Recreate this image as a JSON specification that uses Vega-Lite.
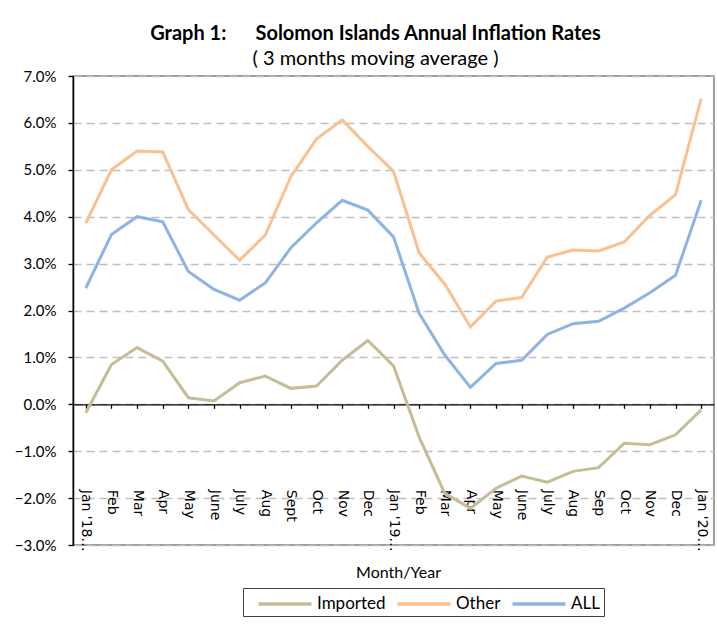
{
  "$schema": "https://vega.github.io/schema/vega-lite/v6.json",
  "autosize": "none",
  "width": 641,
  "height": 469,
  "padding": {"left": 73, "top": 76, "right": 3, "bottom": 93},
  "background": "white",
  "title": {
    "text": "Graph 1:\u00a0\u00a0\u00a0\u00a0\u00a0\u00a0Solomon Islands Annual Inflation Rates",
    "subtitle": "( 3 months moving average )",
    "anchor": "middle",
    "dx": -18,
    "offset": 0,
    "font": "Lato",
    "fontSize": 20,
    "fontWeight": "bold",
    "color": "#000000",
    "subtitleFont": "Lato",
    "subtitleFontSize": 20,
    "subtitleColor": "#000000",
    "subtitlePadding": 5
  },
  "data": {
    "values": [
      {"month": "Jan '18", "series": "Imported", "value": -0.18}, {"month": "Jan '18", "series": "Other", "value": 3.86}, {"month": "Jan '18", "series": "ALL", "value": 2.48},
      {"month": "Feb '18", "series": "Imported", "value": 0.85}, {"month": "Feb '18", "series": "Other", "value": 5.00}, {"month": "Feb '18", "series": "ALL", "value": 3.62},
      {"month": "Mar '18", "series": "Imported", "value": 1.21}, {"month": "Mar '18", "series": "Other", "value": 5.40}, {"month": "Mar '18", "series": "ALL", "value": 4.00},
      {"month": "Apr '18", "series": "Imported", "value": 0.92}, {"month": "Apr '18", "series": "Other", "value": 5.38}, {"month": "Apr '18", "series": "ALL", "value": 3.89},
      {"month": "May '18", "series": "Imported", "value": 0.14}, {"month": "May '18", "series": "Other", "value": 4.15}, {"month": "May '18", "series": "ALL", "value": 2.83},
      {"month": "June '18", "series": "Imported", "value": 0.07}, {"month": "June '18", "series": "Other", "value": 3.61}, {"month": "June '18", "series": "ALL", "value": 2.45},
      {"month": "July '18", "series": "Imported", "value": 0.46}, {"month": "July '18", "series": "Other", "value": 3.07}, {"month": "July '18", "series": "ALL", "value": 2.22},
      {"month": "Aug '18", "series": "Imported", "value": 0.60}, {"month": "Aug '18", "series": "Other", "value": 3.61}, {"month": "Aug '18", "series": "ALL", "value": 2.59},
      {"month": "Sept '18", "series": "Imported", "value": 0.34}, {"month": "Sept '18", "series": "Other", "value": 4.86}, {"month": "Sept '18", "series": "ALL", "value": 3.34},
      {"month": "Oct '18", "series": "Imported", "value": 0.39}, {"month": "Oct '18", "series": "Other", "value": 5.66}, {"month": "Oct '18", "series": "ALL", "value": 3.87},
      {"month": "Nov '18", "series": "Imported", "value": 0.94}, {"month": "Nov '18", "series": "Other", "value": 6.06}, {"month": "Nov '18", "series": "ALL", "value": 4.35},
      {"month": "Dec '18", "series": "Imported", "value": 1.36}, {"month": "Dec '18", "series": "Other", "value": 5.50}, {"month": "Dec '18", "series": "ALL", "value": 4.14},
      {"month": "Jan '19", "series": "Imported", "value": 0.82}, {"month": "Jan '19", "series": "Other", "value": 4.97}, {"month": "Jan '19", "series": "ALL", "value": 3.57},
      {"month": "Feb '19", "series": "Imported", "value": -0.70}, {"month": "Feb '19", "series": "Other", "value": 3.23}, {"month": "Feb '19", "series": "ALL", "value": 1.94},
      {"month": "Mar '19", "series": "Imported", "value": -1.90}, {"month": "Mar '19", "series": "Other", "value": 2.56}, {"month": "Mar '19", "series": "ALL", "value": 1.05},
      {"month": "Apr '19", "series": "Imported", "value": -2.22}, {"month": "Apr '19", "series": "Other", "value": 1.65}, {"month": "Apr '19", "series": "ALL", "value": 0.36},
      {"month": "May '19", "series": "Imported", "value": -1.79}, {"month": "May '19", "series": "Other", "value": 2.20}, {"month": "May '19", "series": "ALL", "value": 0.87},
      {"month": "June '19", "series": "Imported", "value": -1.53}, {"month": "June '19", "series": "Other", "value": 2.28}, {"month": "June '19", "series": "ALL", "value": 0.94},
      {"month": "July '19", "series": "Imported", "value": -1.66}, {"month": "July '19", "series": "Other", "value": 3.14}, {"month": "July '19", "series": "ALL", "value": 1.49},
      {"month": "Aug '19", "series": "Imported", "value": -1.43}, {"month": "Aug '19", "series": "Other", "value": 3.29}, {"month": "Aug '19", "series": "ALL", "value": 1.72},
      {"month": "Sep '19", "series": "Imported", "value": -1.35}, {"month": "Sep '19", "series": "Other", "value": 3.27}, {"month": "Sep '19", "series": "ALL", "value": 1.77},
      {"month": "Oct '19", "series": "Imported", "value": -0.83}, {"month": "Oct '19", "series": "Other", "value": 3.46}, {"month": "Oct '19", "series": "ALL", "value": 2.05},
      {"month": "Nov '19", "series": "Imported", "value": -0.86}, {"month": "Nov '19", "series": "Other", "value": 4.03}, {"month": "Nov '19", "series": "ALL", "value": 2.38},
      {"month": "Dec '19", "series": "Imported", "value": -0.65}, {"month": "Dec '19", "series": "Other", "value": 4.47}, {"month": "Dec '19", "series": "ALL", "value": 2.75},
      {"month": "Jan '20", "series": "Imported", "value": -0.12}, {"month": "Jan '20", "series": "Other", "value": 6.52}, {"month": "Jan '20", "series": "ALL", "value": 4.35}
    ]
  },
  "mark": {"type": "line", "strokeWidth": 3, "strokeJoin": "miter"},
  "encoding": {
    "x": {
      "field": "month",
      "type": "ordinal",
      "sort": null,
      "scale": {"padding": 0.5},
      "axis": {
        "title": "Month/Year",
        "titleFont": "Lato",
        "titleFontSize": 16,
        "titleFontWeight": "normal",
        "titleColor": "#000000",
        "titleY": 168,
        "titleX": 325,
        "titleBaseline": "middle",
        "offset": -140.7,
        "domainColor": "#000000",
        "domainWidth": 1.3,
        "tickColor": "#000000",
        "tickWidth": 1.3,
        "tickSize": 4,
        "labelAngle": 90,
        "labelAlign": "left",
        "labelBaseline": "middle",
        "labelPadding": 81,
        "labelFont": "DejaVu Sans",
        "labelFontSize": 14,
        "labelColor": "#000000",
        "labelOverlap": false,
        "labelExpr": "indexof(datum.value, 'Jan') == 0 ? datum.value + '\u2026' : split(datum.value, ' ')[0]",
        "grid": false
      }
    },
    "y": {
      "field": "value",
      "type": "quantitative",
      "scale": {"domain": [-3, 7], "nice": false, "zero": false},
      "axis": {
        "title": null,
        "values": [-3, -2, -1, 0, 1, 2, 3, 4, 5, 6, 7],
        "labelExpr": "format(datum.value, '.1f') + '%'",
        "labelFont": "Lato",
        "labelFontSize": 15,
        "labelColor": "#000000",
        "labelPadding": 12,
        "tickSize": 5,
        "tickColor": "#000000",
        "tickWidth": 1.3,
        "domainColor": "#000000",
        "domainWidth": 1.5,
        "grid": true,
        "gridColor": "#BFBFBF",
        "gridDash": [8, 5],
        "gridWidth": 1.5
      }
    },
    "color": {
      "field": "series",
      "type": "nominal",
      "scale": {"domain": ["Imported", "Other", "ALL"], "range": ["#C4BD97", "#FAC090", "#8EB4E3"]},
      "legend": {
        "title": null,
        "orient": "none",
        "direction": "horizontal",
        "legendX": 170,
        "legendY": 512,
        "strokeColor": "#404040",
        "padding": 4,
        "symbolOffset": 26,
        "symbolType": "M-2.65,0H2.65",
        "symbolSize": 400,
        "symbolStrokeWidth": 3.5,
        "labelFont": "Lato",
        "labelFontSize": 17,
        "labelColor": "#000000",
        "labelOffset": 20,
        "columnPadding": -4
      }
    }
  },
  "config": {
    "view": {"stroke": "#7F7F7F", "strokeWidth": 1.5}
  }
}
